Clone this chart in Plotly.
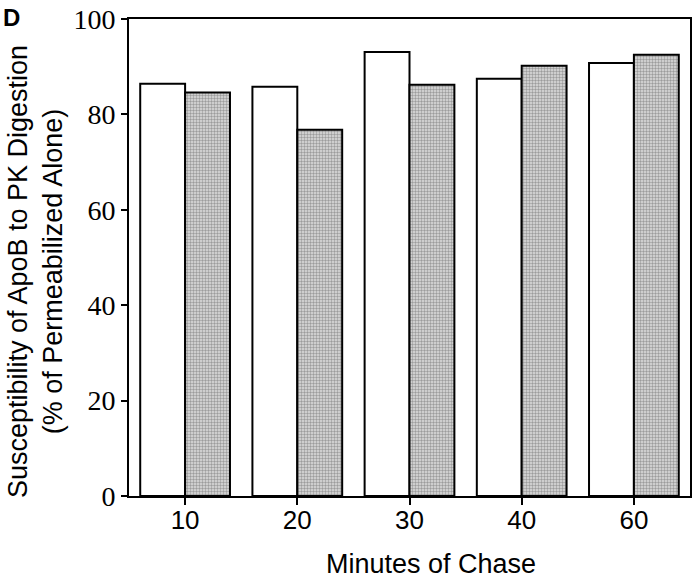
import plotly.graph_objects as go

minutes = ["10", "20", "30", "40", "60"]
open_bars = [86.4, 85.8, 93.1, 87.5, 90.8]
shaded_bars = [84.6, 76.8, 86.2, 90.2, 92.5]
y_ticks = [0, 20, 40, 60, 80, 100]

fig = go.Figure()
fig.add_trace(go.Bar(
    x=minutes, y=open_bars, name="open",
    marker=dict(color="white", line=dict(color="black", width=2)),
))
fig.add_trace(go.Bar(
    x=minutes, y=shaded_bars, name="shaded",
    marker=dict(
        color="#b8b8b8",
        line=dict(color="black", width=2),
        pattern=dict(shape=".", size=3, solidity=0.5, fgcolor="#5a5a5a", bgcolor="#dedede"),
    ),
))

fig.update_layout(
    width=696, height=583,
    margin=dict(l=129, r=4, t=17, b=87),
    paper_bgcolor="white", plot_bgcolor="white",
    barmode="group", bargap=0.2, bargroupgap=0,
    showlegend=False,
    font=dict(family="Liberation Sans, Arial", color="black"),
)
fig.update_xaxes(
    type="category", range=[-0.5, 4.5],
    showline=True, linecolor="black", linewidth=2, mirror=True,
    ticks="outside", ticklen=7, tickwidth=2, tickcolor="black",
    tickfont=dict(family="Liberation Sans, Arial", size=26),
    ticklabelstandoff=-7,
    showgrid=False,
)
fig.update_yaxes(
    range=[0, 100], tickvals=y_ticks,
    showline=True, linecolor="black", linewidth=2, mirror=True,
    ticks="outside", ticklen=6, tickwidth=2, tickcolor="black",
    tickfont=dict(family="Liberation Serif, Times New Roman", size=28),
    ticklabeloverflow="allow",
    showgrid=False, zeroline=False,
)

fig.add_annotation(
    text="Minutes of Chase", xref="paper", yref="paper",
    x=0.538, y=-0.142, xanchor="center", yanchor="middle", showarrow=False,
    font=dict(family="Liberation Sans, Arial", size=27),
)
fig.add_annotation(
    text="Susceptibility of ApoB to PK Digestion<br>(% of Permeabilized Alone)",
    xref="paper", yref="paper", x=-0.167, y=0.47, xanchor="center", yanchor="middle",
    textangle=-90, showarrow=False,
    font=dict(family="Liberation Sans, Arial", size=27),
)
fig.add_annotation(
    text="D", xref="paper", yref="paper",
    x=-0.229, y=1.035, xanchor="left", yanchor="top", showarrow=False,
    font=dict(family="Liberation Sans, Arial", size=24, weight="bold"),
)

# drop the default 8px body margin so the figure fills the window exactly
fig.write_html(
    "out.html",
    config={"displayModeBar": False},
    post_script="document.body.style.margin='0px';",
)
